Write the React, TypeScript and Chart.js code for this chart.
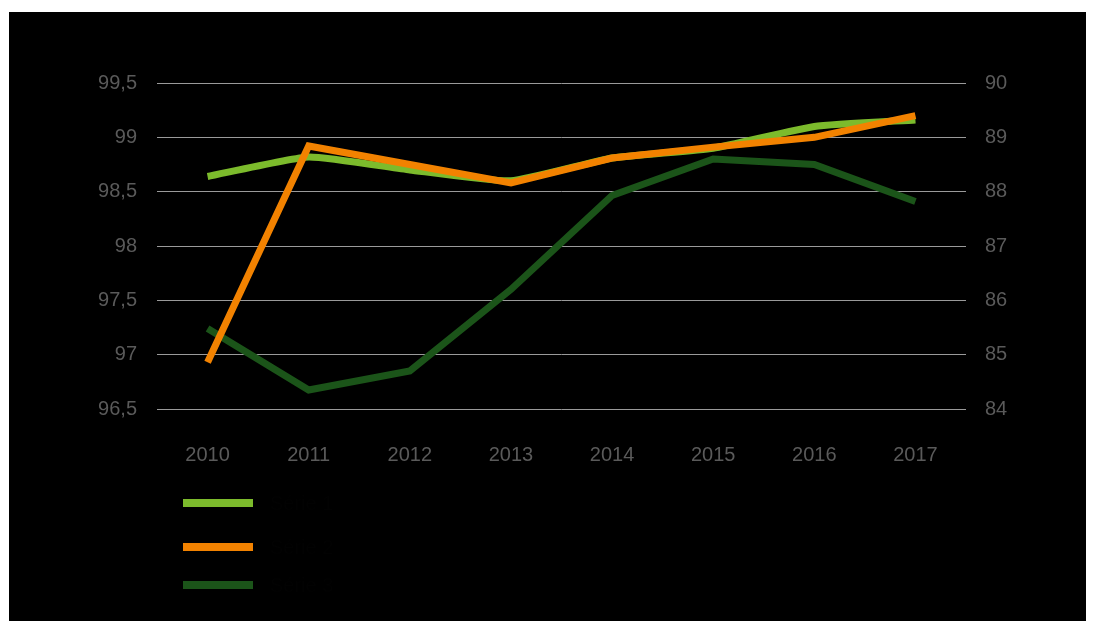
import React, { useEffect, useRef } from "react";
import { Chart, registerables } from "chart.js";

Chart.register(...registerables);

const years = ["2010", "2011", "2012", "2013", "2014", "2015", "2016", "2017"];
const seriesLightGreen = [98.64, 98.82, 98.7, 98.6, 98.81, 98.9, 99.1, 99.16];
const seriesOrange = [96.93, 98.92, 98.75, 98.58, 98.81, 98.91, 99.0, 99.2];
const seriesDarkGreen = [85.48, 84.35, 84.7, 86.2, 87.93, 88.6, 88.5, 87.82];
const labels = ["Série 1", "Série 2", "Série 3"];
const colors = ["#7cbb2c", "#f28200", "#1b5419"];

const BOX_W = 1077;
const CANVAS_H = 480;

export default function App() {
  const ref = useRef<HTMLCanvasElement | null>(null);

  useEffect(() => {
    if (!ref.current) return;
    const tickColor = "#5a5a5a";
    const font = { family: "'Liberation Sans', Arial, sans-serif", size: 20 };
    const chart = new Chart(ref.current, {
      type: "line",
      data: {
        labels: years,
        datasets: [
          {
            label: labels[1],
            data: seriesOrange,
            borderColor: colors[1],
            backgroundColor: colors[1],
            borderWidth: 7,
            pointRadius: 0,
            yAxisID: "y",
            order: 0,
            tension: 0,
          },
          {
            label: labels[0],
            data: seriesLightGreen,
            borderColor: colors[0],
            backgroundColor: colors[0],
            borderWidth: 7,
            pointRadius: 0,
            yAxisID: "y",
            order: 1,
            tension: 0.15,
          },
          {
            label: labels[2],
            data: seriesDarkGreen,
            borderColor: colors[2],
            backgroundColor: colors[2],
            borderWidth: 7,
            pointRadius: 0,
            yAxisID: "y1",
            order: 2,
            tension: 0,
          },
        ],
      },
      options: {
        animation: false,
        responsive: false,
        devicePixelRatio: 1,
        layout: { padding: { top: 71, left: 0, right: 0, bottom: 0 } },
        plugins: {
          legend: { display: false },
          tooltip: { enabled: false },
          title: { display: false },
        },
        scales: {
          x: {
            offset: true,
            grid: { display: false, drawTicks: false },
            border: { display: false },
            ticks: { color: tickColor, font, padding: 34, maxRotation: 0 },
            afterFit: (s: any) => {
              s.height = CANVAS_H - 397;
            },
          },
          y: {
            position: "left",
            min: 96.5,
            max: 99.5,
            grid: { color: "#9a9a9a", lineWidth: 1, drawTicks: false },
            border: { display: false },
            ticks: {
              stepSize: 0.5,
              color: tickColor,
              font,
              padding: 20,
              callback: (v: any) => String(Number(v)).replace(".", ","),
            },
            afterFit: (s: any) => {
              s.width = 148;
            },
          },
          y1: {
            position: "right",
            min: 84,
            max: 90,
            grid: { display: false, drawTicks: false },
            border: { display: false },
            ticks: { stepSize: 1, color: tickColor, font, padding: 19 },
            afterFit: (s: any) => {
              s.width = BOX_W - 957;
            },
          },
        },
      },
    });
    return () => chart.destroy();
  }, []);

  const legendOrder = [0, 1, 2];
  const legendTops = [503, 547, 585];

  return (
    <div
      style={{
        position: "fixed",
        left: 0,
        top: 0,
        width: 1094,
        height: 629,
        background: "#ffffff",
        overflow: "hidden",
      }}
    >
      <div
        style={{
          position: "absolute",
          left: 9,
          top: 12,
          width: BOX_W,
          height: 609,
          background: "#000000",
        }}
      >
        <canvas
          ref={ref}
          width={BOX_W}
          height={CANVAS_H}
          style={{ position: "absolute", left: 0, top: 0, width: BOX_W, height: CANVAS_H }}
        />
        {legendOrder.map((i, k) => (
          <div
            key={i}
            style={{
              position: "absolute",
              left: 174,
              top: legendTops[k] - 12 - 12,
              height: 24,
              display: "flex",
              alignItems: "center",
              fontFamily: "'Liberation Sans', Arial, sans-serif",
              fontSize: 20,
              color: "#020202",
            }}
          >
            <span
              style={{
                display: "inline-block",
                width: 70,
                height: 8,
                background: colors[i],
                marginRight: 17,
              }}
            />
            <span>{labels[i]}</span>
          </div>
        ))}
      </div>
    </div>
  );
}
